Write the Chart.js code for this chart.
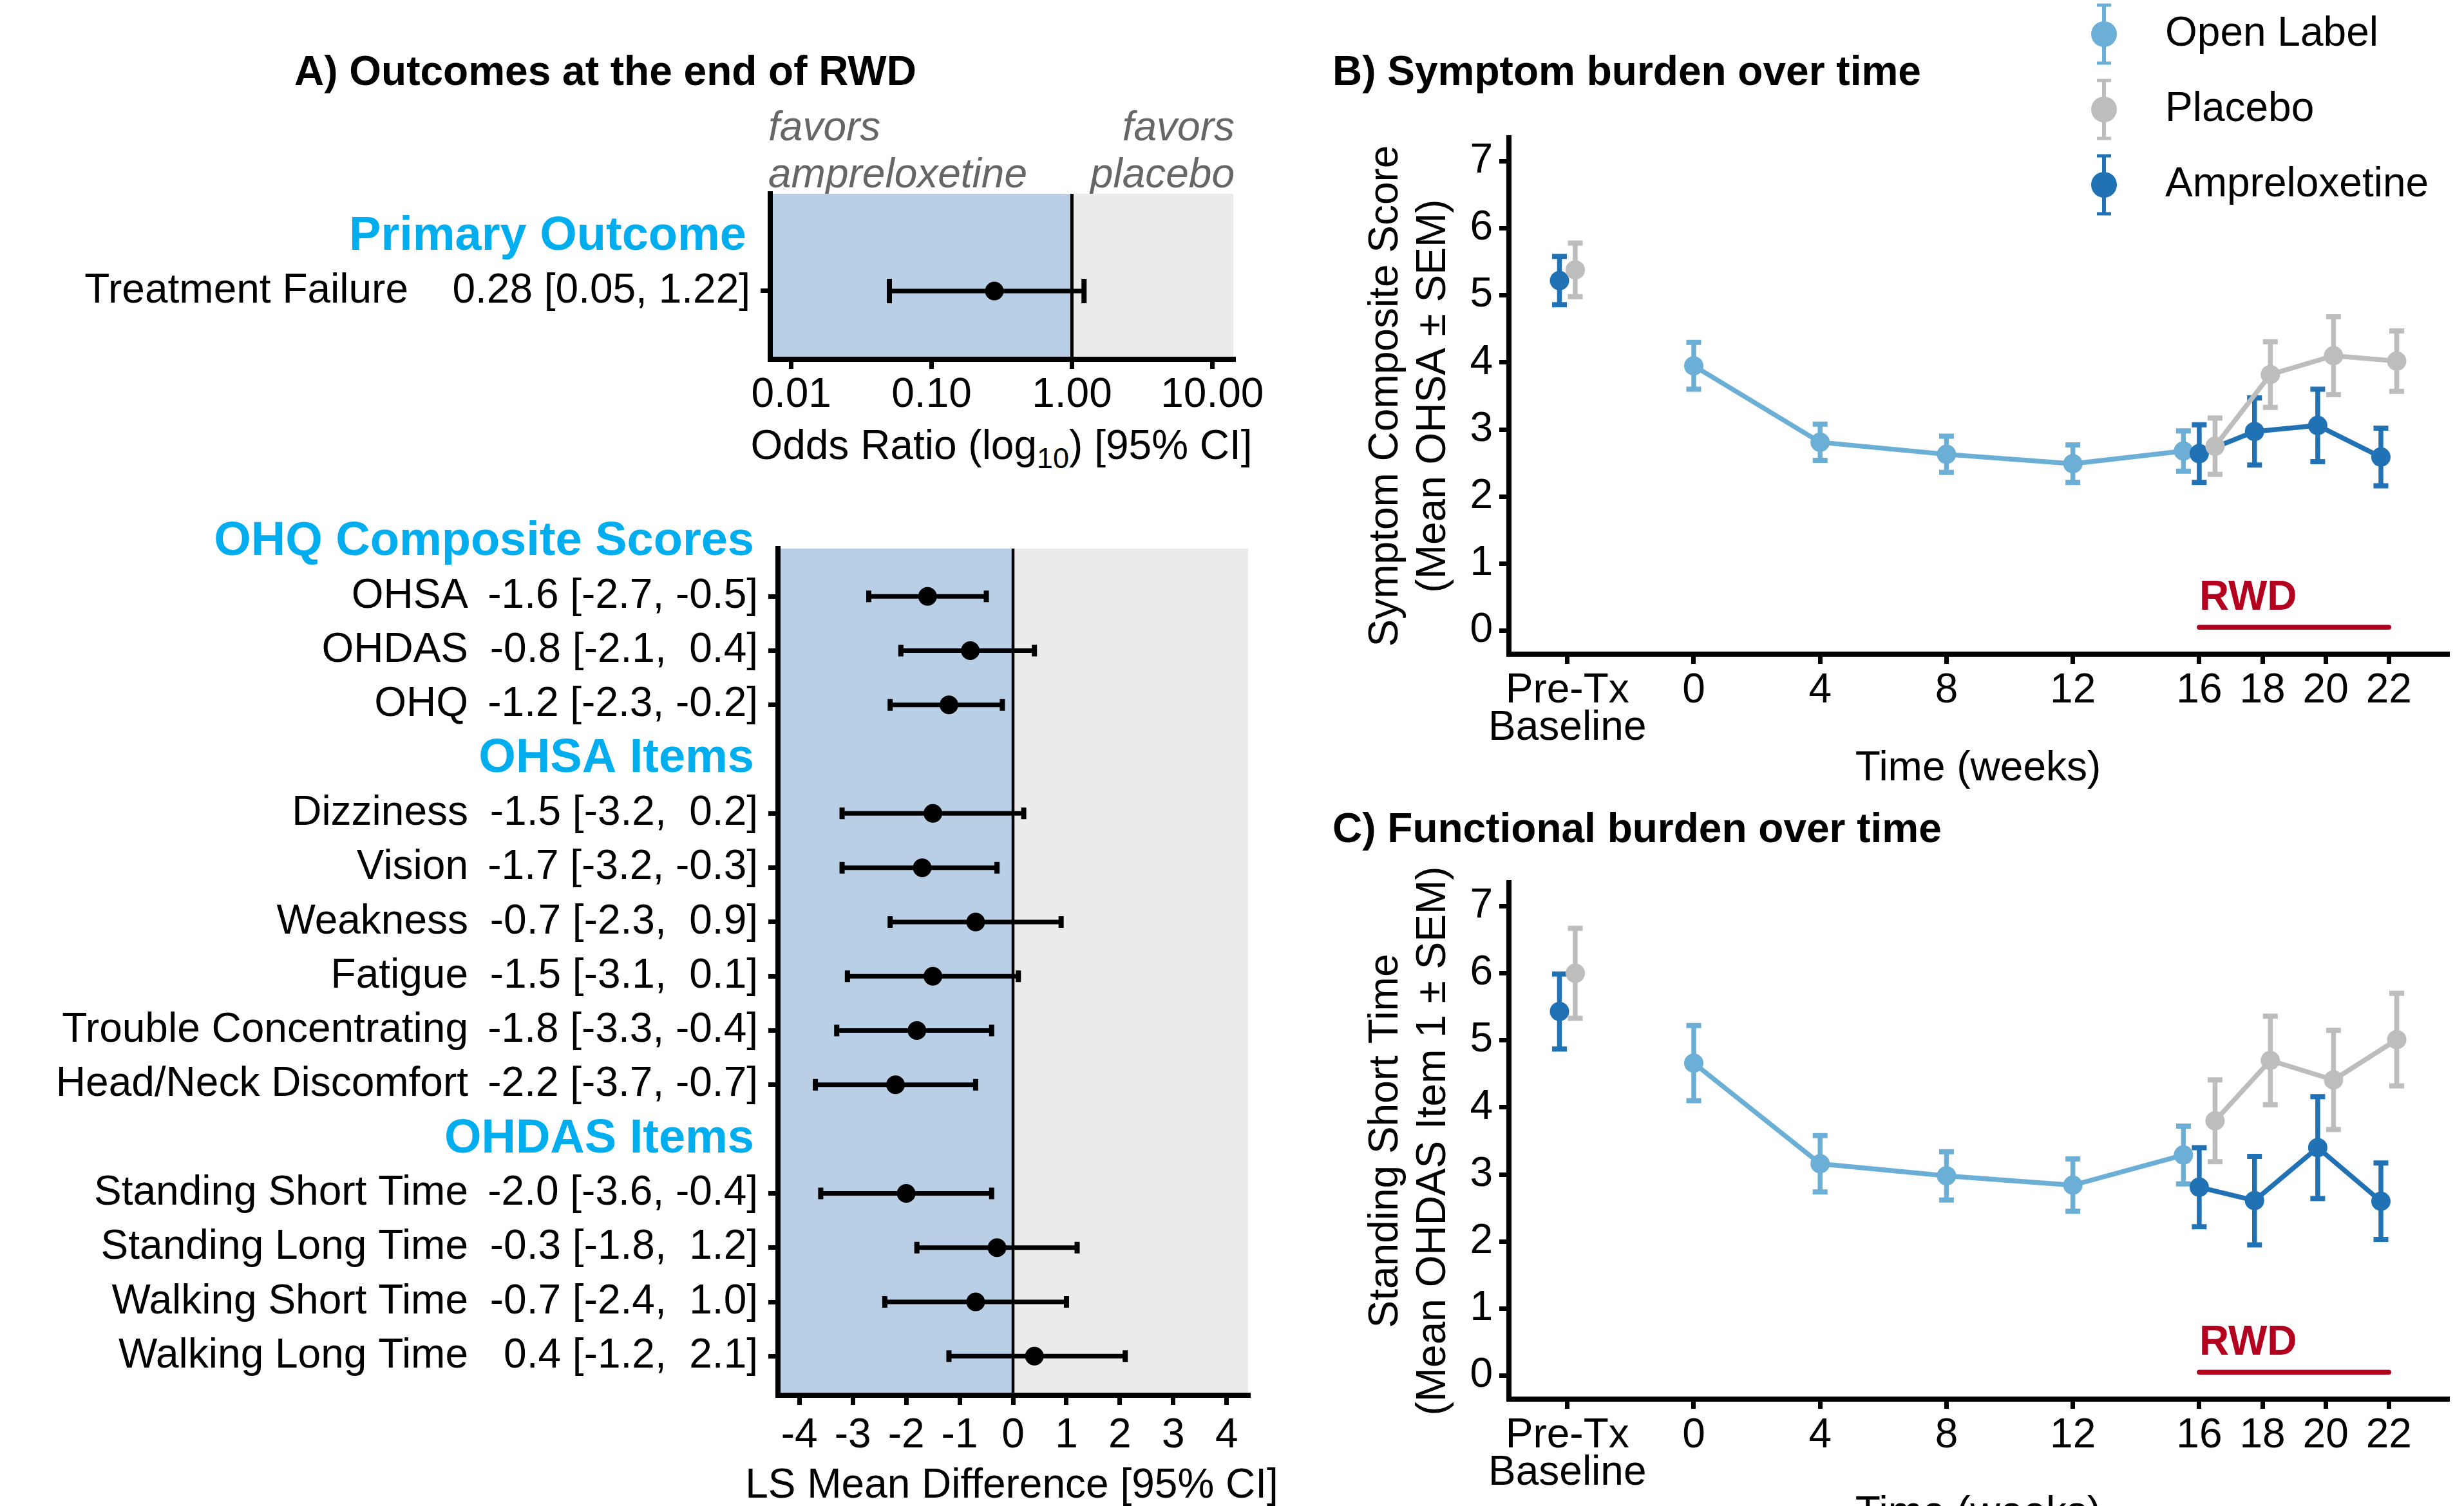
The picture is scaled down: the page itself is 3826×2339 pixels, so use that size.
<!DOCTYPE html>
<html>
<head>
<meta charset="utf-8">
<title>Ampreloxetine – outcomes and burden over time</title>
<script src="https://cdn.jsdelivr.net/npm/chart.js@4.4.1/dist/chart.umd.min.js"></script>
<style>
  html, body { margin: 0; padding: 0; background: #fff; }
  body { width: 3826px; height: 2339px; overflow: hidden; position: relative;
         font-family: 'Liberation Sans', Arial, Helvetica, sans-serif; }
  canvas { position: absolute; }
  .ttl { position: absolute; font-weight: bold; font-size: 64px; line-height: 64px; white-space: nowrap; color: #000; }
  .fav { position: absolute; font-style: italic; font-size: 64px; line-height: 73px; white-space: nowrap; color: #666; }
  .axt { position: absolute; font-size: 64px; line-height: 64px; white-space: nowrap; color: #000; text-align: center; }
  .axt span { font-size: 45px; position: relative; top: 14px; }
</style>
</head>
<body>
<div class="ttl" style="left:340px; top:78px; width:1200px; text-align:center;">A) Outcomes at the end of RWD</div>
<div class="ttl" style="left:2069px; top:78px;">B) Symptom burden over time</div>
<div class="ttl" style="left:2069px; top:1254px;">C) Functional burden over time</div>
<div class="fav" style="left:1193px; top:160px;">favors<br>ampreloxetine</div>
<div class="fav" style="left:1417px; width:500px; top:160px; text-align:right;">favors<br>placebo</div>
<div class="axt" style="left:1055px; width:1000px; top:659px;">Odds Ratio (log<span>10</span>) [95% CI]</div>
<div class="axt" style="left:1071px; width:1000px; top:2272px;">LS Mean Difference [95% CI]</div>

<canvas id="orChart" width="3826" height="2500" style="left:0; top:0;"></canvas>
<canvas id="lsChart" width="3826" height="2500" style="left:0; top:0;"></canvas>
<canvas id="symChart" width="3826" height="2500" style="left:0; top:0;"></canvas>
<canvas id="funChart" width="3826" height="2500" style="left:0; top:0;"></canvas>
<canvas id="legendChart" width="1400" height="500" style="left:3100px; top:-100px;"></canvas>

<script>
// ---------- A) odds ratio ----------
const orNames = ['Treatment Failure'];
const orEst = [0.28];
const orLow = [0.05];
const orHigh = [1.22];
const orRows = [1];
const orHeaders = ['Primary Outcome'];
const orHeaderRows = [0];
const orTicks = [0.01, 0.1, 1, 10];

// ---------- A) LS mean differences ----------
const lsNames = ['OHSA', 'OHDAS', 'OHQ', 'Dizziness', 'Vision', 'Weakness', 'Fatigue',
  'Trouble Concentrating', 'Head/Neck Discomfort', 'Standing Short Time',
  'Standing Long Time', 'Walking Short Time', 'Walking Long Time'];
const lsEst  = [-1.6, -0.8, -1.2, -1.5, -1.7, -0.7, -1.5, -1.8, -2.2, -2.0, -0.3, -0.7, 0.4];
const lsLow  = [-2.7, -2.1, -2.3, -3.2, -3.2, -2.3, -3.1, -3.3, -3.7, -3.6, -1.8, -2.4, -1.2];
const lsHigh = [-0.5, 0.4, -0.2, 0.2, -0.3, 0.9, 0.1, -0.4, -0.7, -0.4, 1.2, 1.0, 2.1];
const lsRows = [1, 2, 3, 5, 6, 7, 8, 9, 10, 12, 13, 14, 15];
const lsHeaders = ['OHQ Composite Scores', 'OHSA Items', 'OHDAS Items'];
const lsHeaderRows = [0, 4, 11];
const lsTicks = [-4, -3, -2, -1, 0, 1, 2, 3, 4];

// ---------- B) and C) over time ----------
const timeTicks = [-4, 0, 4, 8, 12, 16, 18, 20, 22];   // -4 = pre-treatment baseline slot
const timeLabels = [['Pre-Tx', 'Baseline'], '0', '4', '8', '12', '16', '18', '20', '22'];
const scoreTicks = [0, 1, 2, 3, 4, 5, 6, 7];
const olWeeks = [0, 4, 8, 12, 16];
const rwdWeeks = [-4, 16, 18, 20, 22];

const symOLMean  = [3.95, 2.81, 2.63, 2.49, 2.68];
const symOLSem   = [0.35, 0.27, 0.27, 0.28, 0.30];
const symAmpMean = [5.22, 2.64, 2.97, 3.06, 2.59];
const symAmpSem  = [0.36, 0.43, 0.50, 0.54, 0.43];
const symPboMean = [5.38, 2.75, 3.82, 4.10, 4.02];
const symPboSem  = [0.40, 0.42, 0.49, 0.58, 0.45];

const funOLMean  = [4.66, 3.16, 2.98, 2.84, 3.29];
const funOLSem   = [0.56, 0.42, 0.36, 0.39, 0.43];
const funAmpMean = [5.43, 2.81, 2.61, 3.40, 2.60];
const funAmpSem  = [0.56, 0.59, 0.66, 0.76, 0.57];
const funPboMean = [6.00, 3.80, 4.70, 4.41, 5.01];
const funPboSem  = [0.67, 0.61, 0.66, 0.74, 0.69];

const rwdStart = 16, rwdEnd = 22;
const legendNames = ['Open Label', 'Placebo', 'Ampreloxetine'];

// ---------- styles ----------
const FAMILY = "'Liberation Sans', Arial, Helvetica, sans-serif";
const colOL = '#6BAED6', colPbo = '#BDBDBD', colAmp = '#2171B5', colRwd = '#B2001E';
const headerBlue = '#00AEEF', shadeBlue = '#B9CFE5', shadeGray = '#EBEBEB';

Chart.defaults.font.family = FAMILY;
Chart.defaults.font.size = 64;
Chart.defaults.color = '#000';
Chart.defaults.animation = false;
Chart.defaults.responsive = false;
Chart.defaults.events = [];
Chart.defaults.plugins.legend.display = false;
Chart.defaults.plugins.tooltip.enabled = false;

// "est [lo, hi]" with columns padded like the R output
function ciTexts(est, lo, hi, digits) {
  const col = arr => {
    const s = arr.map(v => v.toFixed(digits));
    const w = Math.max(...s.map(t => t.length));
    return s.map(t => t.padStart(w, ' '));
  };
  const e = col(est), l = col(lo), h = col(hi);
  return e.map((t, i) => t.trim() + ' [' + l[i] + ', ' + h[i] + ']');
}

// error bars drawn right before their own dataset
const errorBars = {
  id: 'errorBars',
  beforeDatasetDraw(chart, args) {
    const ds = chart.data.datasets[args.index];
    const eb = ds.errorBars;
    if (!eb) return;
    const xs = chart.scales[args.meta.xAxisID], ys = chart.scales[args.meta.yAxisID];
    const ctx = chart.ctx;
    ctx.save();
    ctx.strokeStyle = eb.color;
    ds.data.forEach((p, i) => {
      ctx.beginPath();
      ctx.lineWidth = eb.width;
      if (eb.dir === 'x') {
        const y = ys.getPixelForValue(p.y);
        const x1 = xs.getPixelForValue(eb.lo[i]), x2 = xs.getPixelForValue(eb.hi[i]);
        ctx.moveTo(x1, y); ctx.lineTo(x2, y); ctx.stroke();
        ctx.beginPath(); ctx.lineWidth = eb.capWidth;
        ctx.moveTo(x1, y - eb.cap); ctx.lineTo(x1, y + eb.cap);
        ctx.moveTo(x2, y - eb.cap); ctx.lineTo(x2, y + eb.cap);
        ctx.stroke();
      } else {
        const x = xs.getPixelForValue(p.x);
        const y1 = ys.getPixelForValue(eb.lo[i]), y2 = ys.getPixelForValue(eb.hi[i]);
        ctx.moveTo(x, y1); ctx.lineTo(x, y2); ctx.stroke();
        ctx.beginPath(); ctx.lineWidth = eb.capWidth;
        ctx.moveTo(x - eb.cap, y1); ctx.lineTo(x + eb.cap, y1);
        ctx.moveTo(x - eb.cap, y2); ctx.lineTo(x + eb.cap, y2);
        ctx.stroke();
      }
    });
    ctx.restore();
  }
};

// blue / grey halves behind a forest plot
function shadePlugin(refValue) {
  return {
    id: 'forestShade',
    beforeDraw(chart) {
      const {ctx, chartArea: a} = chart;
      const x0 = chart.scales.x.getPixelForValue(refValue);
      ctx.save();
      ctx.fillStyle = shadeBlue;
      ctx.fillRect(a.left, a.top, x0 - a.left, a.bottom - a.top);
      ctx.fillStyle = shadeGray;
      ctx.fillRect(x0, a.top, a.right - x0, a.bottom - a.top);
      ctx.restore();
    }
  };
}

// blue group headings placed on their own rows
function headerPlugin(texts, rows) {
  return {
    id: 'rowHeaders',
    afterDraw(chart) {
      const {ctx, chartArea} = chart;
      const ys = chart.scales.y;
      ctx.save();
      ctx.font = 'bold 74px ' + FAMILY;
      ctx.fillStyle = headerBlue;
      ctx.textAlign = 'right';
      ctx.textBaseline = 'middle';
      texts.forEach((t, i) => ctx.fillText(t, chartArea.left - 37, ys.getPixelForValue(rows[i])));
      ctx.restore();
    }
  };
}

const rwdLabel = {
  id: 'rwdLabel',
  afterDatasetsDraw(chart) {
    const ctx = chart.ctx;
    ctx.save();
    ctx.font = 'bold 64px ' + FAMILY;
    ctx.fillStyle = colRwd;
    ctx.textAlign = 'left';
    ctx.textBaseline = 'alphabetic';
    ctx.fillText('RWD', chart.scales.x.getPixelForValue(rwdStart), chart.scales.y.getPixelForValue(0.31));
    ctx.restore();
  }
};

const axisGrid = {display: true, drawOnChartArea: false, drawTicks: true, tickLength: 15, lineWidth: 7, color: '#000'};
const axisBorder = {display: true, color: '#000', width: 8};
const tickFont = {size: 64, lineHeight: 1};
const titleFont = {size: 64, lineHeight: 1.2};

function forestYAxes(rows, names, texts, min, max, valueWidth, nameWidth) {
  const pick = arr => v => { const i = rows.indexOf(v); return i < 0 ? '' : arr[i]; };
  const common = {
    type: 'linear', reverse: true, min: min, max: max, bounds: 'data', position: 'left',
    afterBuildTicks: s => { s.ticks = rows.map(v => ({value: v})); }
  };
  return {
    y: Object.assign({}, common, {
      weight: 0,
      afterFit: s => { s.width = valueWidth; },
      grid: axisGrid, border: axisBorder,
      ticks: {callback: pick(texts), padding: 16, autoSkip: false, font: tickFont}
    }),
    yn: Object.assign({}, common, {
      weight: 1,
      afterFit: s => { s.width = nameWidth; },
      grid: {display: false, drawTicks: false}, border: {display: false},
      ticks: {callback: pick(names), padding: 0, autoSkip: false, font: tickFont}
    })
  };
}

// ---------- A) odds ratio chart ----------
const orMin = -0.78, orMax = 2.25;
new Chart(document.getElementById('orChart'), {
  type: 'scatter',
  data: {
    datasets: [
      {
        label: 'Treatment failure',
        data: orRows.map((r, i) => ({x: orEst[i], y: r})),
        backgroundColor: '#000', pointRadius: 14.5, pointBorderWidth: 0,
        errorBars: {dir: 'x', lo: orLow, hi: orHigh, color: '#000', width: 7, capWidth: 8, cap: 19}
      },
      {
        label: 'no effect',
        data: [{x: 1, y: orMin}, {x: 1, y: orMax}],
        showLine: true, borderColor: '#000', borderWidth: 5, pointRadius: 0
      }
    ]
  },
  options: {
    devicePixelRatio: 1,
    layout: {padding: {left: 34, top: 301, right: 3826 - 1915, bottom: 2500 - 558 - 167}},
    scales: Object.assign({
      x: {
        type: 'logarithmic', min: Math.pow(10, -2.15), max: Math.pow(10, 1.15), bounds: 'data',
        afterBuildTicks: s => { s.ticks = orTicks.map(v => ({value: v})); },
        afterFit: s => { s.height = 167; },
        grid: axisGrid, border: axisBorder,
        ticks: {callback: v => Number(v).toFixed(2), padding: 9, autoSkip: false, maxRotation: 0, font: tickFont}
      }
    }, forestYAxes(orRows, orNames, ciTexts(orEst, orLow, orHigh, 2), orMin, orMax, 562, 600))
  },
  plugins: [shadePlugin(1), errorBars, headerPlugin(orHeaders, orHeaderRows)]
});

// ---------- A) LS mean difference chart ----------
const lsMin = 0.12, lsMax = 15.72;
new Chart(document.getElementById('lsChart'), {
  type: 'scatter',
  data: {
    datasets: [
      {
        label: 'LS mean difference',
        data: lsRows.map((r, i) => ({x: lsEst[i], y: r})),
        backgroundColor: '#000', pointRadius: 14.5, pointBorderWidth: 0,
        errorBars: {dir: 'x', lo: lsLow, hi: lsHigh, color: '#000', width: 7, capWidth: 8, cap: 9}
      },
      {
        label: 'no difference',
        data: [{x: 0, y: lsMin}, {x: 0, y: lsMax}],
        showLine: true, borderColor: '#000', borderWidth: 4.5, pointRadius: 0
      }
    ]
  },
  options: {
    devicePixelRatio: 1,
    layout: {padding: {left: 1208 - 481 - 700, top: 852, right: 3826 - 1938, bottom: 2500 - 2167 - 180}},
    scales: Object.assign({
      x: {
        type: 'linear', min: -4.4, max: 4.4, bounds: 'data',
        afterBuildTicks: s => { s.ticks = lsTicks.map(v => ({value: v})); },
        afterFit: s => { s.height = 180; },
        grid: axisGrid, border: axisBorder,
        ticks: {callback: v => String(v), padding: 16, autoSkip: false, maxRotation: 0, font: tickFont}
      }
    }, forestYAxes(lsRows, lsNames, ciTexts(lsEst, lsLow, lsHigh, 1), lsMin, lsMax, 481, 700))
  },
  plugins: [shadePlugin(0), errorBars, headerPlugin(lsHeaders, lsHeaderRows)]
});

// ---------- B) and C) ----------
// horizontal dodge so overlapping groups sit side by side
function dodge(group, week) {
  if (week === 16) return group === 'Open Label' ? -0.5 : group === 'Placebo' ? 0.5 : 0;
  if (group === 'Open Label') return 0;
  return group === 'Placebo' ? 0.25 : -0.25;
}

function series(name, color, weeks, mean, sem) {
  return {
    label: name,
    data: weeks.map((w, i) => ({x: w + dodge(name, w), y: mean[i]})),
    showLine: true, borderColor: color, backgroundColor: color, borderWidth: 7.5,
    borderJoinStyle: 'round', borderCapStyle: 'round',
    pointRadius: 15, pointBorderWidth: 0,
    segment: {borderColor: c => (c.p0.parsed.x < 0 ? 'rgba(0,0,0,0)' : undefined)},
    errorBars: {
      dir: 'y', color: color, width: 7.5, capWidth: 8, cap: 11.5,
      lo: mean.map((m, i) => m - sem[i]), hi: mean.map((m, i) => m + sem[i])
    }
  };
}

function timeChart(id, yTitle, top, ol, olSem, amp, ampSem, pbo, pboSem) {
  const bottom = top + 802;
  return new Chart(document.getElementById(id), {
    type: 'scatter',
    data: {
      datasets: [
        series('Placebo', colPbo, rwdWeeks, pbo, pboSem),
        series('Ampreloxetine', colAmp, rwdWeeks, amp, ampSem),
        series('Open Label', colOL, olWeeks, ol, olSem),
        {
          label: 'RWD',
          data: [{x: rwdStart, y: 0.05}, {x: rwdEnd, y: 0.05}],
          showLine: true, borderColor: colRwd, borderWidth: 7.5, borderCapStyle: 'round', pointRadius: 0
        }
      ]
    },
    options: {
      devicePixelRatio: 1,
      layout: {padding: {left: 2343 - 228, top: top, right: 3826 - 3800, bottom: 2500 - bottom - 217}},
      scales: {
        x: {
          type: 'linear', min: -5.85, max: 23.85, bounds: 'data',
          afterBuildTicks: s => { s.ticks = timeTicks.map(v => ({value: v})); },
          afterFit: s => { s.height = 217; },
          grid: axisGrid, border: axisBorder,
          ticks: {
            callback: v => timeLabels[timeTicks.indexOf(v)],
            padding: 14, autoSkip: false, maxRotation: 0, font: {size: 64, lineHeight: 0.9}
          },
          title: {display: true, text: 'Time (weeks)', font: titleFont, padding: 0}
        },
        y: {
          type: 'linear', min: -0.35, max: 7.35, bounds: 'data', position: 'left',
          afterBuildTicks: s => { s.ticks = scoreTicks.map(v => ({value: v})); },
          afterFit: s => { s.width = 228; },
          grid: axisGrid, border: axisBorder,
          ticks: {padding: 10, autoSkip: false, font: tickFont},
          title: {display: true, text: yTitle, font: {size: 64, lineHeight: 1.16}, padding: 0}
        }
      }
    },
    plugins: [errorBars, rwdLabel]
  });
}

timeChart('symChart', ['Symptom Composite Score', '(Mean OHSA \u00B1 SEM)'], 214,
  symOLMean, symOLSem, symAmpMean, symAmpSem, symPboMean, symPboSem);
timeChart('funChart', ['Standing Short Time', '(Mean OHDAS Item 1 \u00B1 SEM)'], 1371,
  funOLMean, funOLSem, funAmpMean, funAmpSem, funPboMean, funPboSem);

// ---------- legend (point + error bar keys) ----------
function legendKey(color) {
  const c = document.createElement('canvas');
  c.width = 46; c.height = 100;
  const g = c.getContext('2d');
  g.strokeStyle = color; g.fillStyle = color;
  g.lineWidth = 6;
  g.beginPath(); g.moveTo(23, 5); g.lineTo(23, 95); g.stroke();
  g.lineWidth = 5;
  g.beginPath(); g.moveTo(12, 5); g.lineTo(34, 5); g.moveTo(12, 95); g.lineTo(34, 95); g.stroke();
  g.beginPath(); g.arc(23, 50, 20, 0, Math.PI * 2); g.fill();
  return c;
}
const legendColors = [colOL, colPbo, colAmp];
const legendKeys = legendColors.map(legendKey);

new Chart(document.getElementById('legendChart'), {
  type: 'scatter',
  data: {datasets: legendNames.map((n, i) => ({label: n, data: [], backgroundColor: legendColors[i]}))},
  options: {
    devicePixelRatio: 1,
    layout: {padding: {left: 51, top: 68}},
    scales: {x: {display: false}, y: {display: false}},
    plugins: {
      legend: {
        display: true, position: 'left', align: 'start',
        labels: {
          usePointStyle: true, pointStyleWidth: 126, padding: 53, color: '#000',
          font: {size: 64},
          generateLabels: () => legendNames.map((n, i) => ({
            text: n, pointStyle: legendKeys[i], fillStyle: legendColors[i],
            strokeStyle: legendColors[i], lineWidth: 0, hidden: false, datasetIndex: i, fontColor: '#000'
          }))
        }
      }
    }
  }
});
</script>
</body>
</html>
